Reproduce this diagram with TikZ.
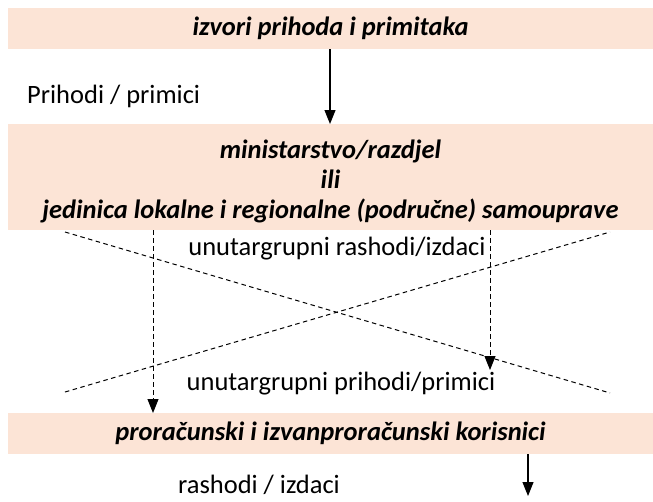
\documentclass[tikz,border=0pt]{standalone}
\usepackage{fontspec}
\setmainfont{Carlito}
\usetikzlibrary{arrows.meta}
\definecolor{peach}{HTML}{FCE4D6}
\begin{document}
\begin{tikzpicture}[x=1pt,y=-1pt,
  band/.style={fill=peach, draw=none, inner sep=0pt, outer sep=0pt, anchor=north west, minimum width=645pt},
  boxtext/.style={font=\fontsize{26.5}{30}\selectfont\bfseries\itshape, align=center},
  plain/.style={font=\fontsize{26.5}{30}\selectfont, inner sep=0pt},
  arr/.style={line width=1.1pt, -{Triangle[length=14pt,width=11pt]}},
  darr/.style={line width=1pt, dash pattern=on 4.5pt off 3.5pt, -{Triangle[length=14pt,width=11pt]}},
  xline/.style={line width=1pt, dash pattern=on 4.5pt off 3.5pt}]
\useasboundingbox (0,0) rectangle (653,501);
% boxes
\node[band, minimum height=41pt, boxtext] (b1) at (8,8) {izvori prihoda i primitaka};
\node[band, minimum height=106pt] (b2) at (8,124) {};
\node[boxtext, inner sep=0pt] (t2) at (330.5,181) {ministarstvo/razdjel\\ili\\jedinica lokalne i regionalne (područne) samouprave};
\node[band, minimum height=41pt, boxtext] (b3) at (8,413) {proračunski i izvanproračunski korisnici};
% labels
\node[plain, anchor=west] (l1) at (27,96) {Prihodi / primici};
\node[plain] (l2) at (337,249) {unutargrupni rashodi/izdaci};
\node[plain] (l3) at (341,384) {unutargrupni prihodi/primici};
\node[plain] (l4) at (259,485) {rashodi / izdaci};
% coordinates
\coordinate (c1) at (330,0);
\coordinate (cl) at (153,0);
\coordinate (cr) at (490,0);
\coordinate (cre) at (490,370);
\coordinate (c5) at (528,0);
\coordinate (c5e) at (528,496);
\coordinate (x1) at (65,232);
\coordinate (x2) at (610,393);
\coordinate (x3) at (65,392);
\coordinate (x4) at (610,232);
% connectors
\draw[arr] (b1.south -| c1) -- (b2.north -| c1);
\draw[xline] (x1) -- (x2);
\draw[xline] (x3) -- (x4);
\draw[darr] (b2.south -| cl) -- (b3.north -| cl);
\draw[darr] (b2.south -| cr) -- (cre);
\draw[arr] (b3.south -| c5) -- (c5e);
\end{tikzpicture}
\end{document}
